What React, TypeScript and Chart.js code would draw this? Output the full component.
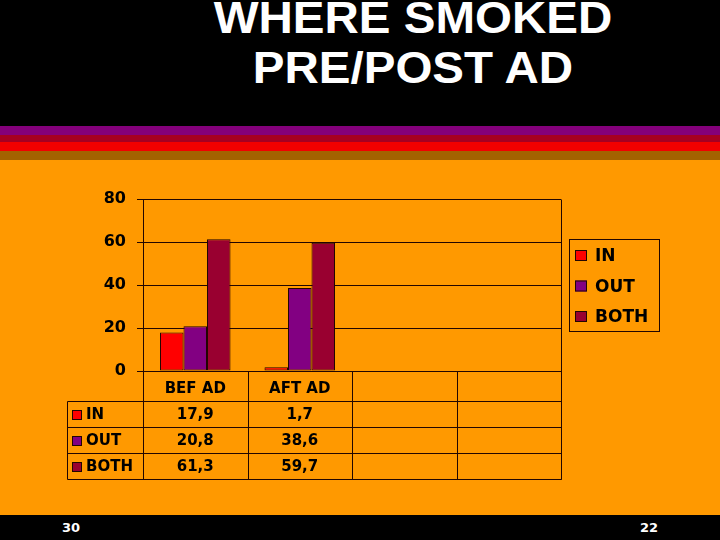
import { useEffect, useRef } from "react"
import { Chart, registerables } from "chart.js"
import type { Plugin } from "chart.js"

Chart.register(...registerables)

const categories = ["BEF AD", "AFT AD", "", ""]
const seriesNames = ["IN", "OUT", "BOTH"]
const inValues = [17.9, 1.7]
const outValues = [20.8, 38.6]
const bothValues = [61.3, 59.7]
const yTicks = [0, 20, 40, 60, 80]
const seriesColors = ["#ff0000", "#820082", "#990030"]

const ORANGE = "#ff9900"
const LINE = "#220600"
const FONT = "'DejaVu Sans', Verdana, sans-serif"

const fmt = (v: number) => v.toFixed(1).replace(".", ",")

// data table under the axis, columns follow the x scale
const tablePlugin: Plugin<"bar"> = {
  id: "dataTable",
  afterDraw(chart) {
    const { ctx, chartArea } = chart
    const x = chart.scales.x
    const step = x.getPixelForValue(1) - x.getPixelForValue(0)
    const top = chartArea.bottom
    const headBottom = top + 30
    const rowH = 26
    const bottom = headBottom + rowH * seriesNames.length
    const left = 67

    ctx.save()
    ctx.strokeStyle = LINE
    ctx.lineWidth = 1
    const line = (x0: number, y0: number, x1: number, y1: number) => {
      ctx.beginPath()
      ctx.moveTo(Math.round(x0) + 0.5, Math.round(y0) + 0.5)
      ctx.lineTo(Math.round(x1) + 0.5, Math.round(y1) + 0.5)
      ctx.stroke()
    }

    // plot right border
    line(chartArea.right, chartArea.top, chartArea.right, bottom)
    // y axis continues down
    line(chartArea.left, top, chartArea.left, bottom)
    line(left, headBottom, left, bottom)
    categories.forEach((_, i) => {
      const edge = x.getPixelForValue(i) + step / 2
      line(edge, top, edge, bottom)
    })
    for (let r = 0; r <= seriesNames.length; r++) {
      const y = headBottom + r * rowH
      line(left, y, chartArea.right, y)
    }

    const values = [inValues, outValues, bothValues]
    ctx.font = `bold 15px ${FONT}`
    ctx.textBaseline = "middle"
    seriesNames.forEach((name, r) => {
      const cy = headBottom + r * rowH + rowH / 2 + 1
      ctx.fillStyle = seriesColors[r]
      ctx.fillRect(72, cy - 5, 9, 9)
      ctx.strokeRect(72.5, cy - 4.5, 9, 9)
      ctx.fillStyle = "#000"
      ctx.textAlign = "left"
      ctx.fillText(name, 86, cy)
      ctx.textAlign = "center"
      values[r].forEach((v, i) => {
        ctx.fillText(fmt(v), x.getPixelForValue(i), cy)
      })
    })
    ctx.restore()
  },
}

// boxed legend on the right
const legendPlugin: Plugin<"bar"> = {
  id: "boxLegend",
  afterDraw(chart) {
    const { ctx } = chart
    const bx = 569
    const by = 79
    ctx.save()
    ctx.strokeStyle = LINE
    ctx.lineWidth = 1
    ctx.strokeRect(bx + 0.5, by + 0.5, 90, 92)
    ctx.font = `bold 17px ${FONT}`
    ctx.textBaseline = "middle"
    ctx.textAlign = "left"
    chart.data.datasets.forEach((ds, i) => {
      const cy = by + 17 + i * 30.5
      ctx.fillStyle = ds.backgroundColor as string
      ctx.fillRect(575, cy - 6, 12, 11)
      ctx.strokeRect(575.5, cy - 5.5, 11, 10)
      ctx.fillStyle = "#000"
      ctx.fillText(ds.label as string, 595, cy + 1)
    })
    ctx.restore()
  },
}

function BarChart() {
  const chartRef = useRef<HTMLCanvasElement>(null)
  const chartInstance = useRef<Chart | null>(null)

  useEffect(() => {
    if (!chartRef.current) return
    if (chartInstance.current) chartInstance.current.destroy()

    const series = [inValues, outValues, bothValues]
    chartInstance.current = new Chart(chartRef.current, {
      type: "bar",
      data: {
        labels: categories,
        datasets: seriesNames.map((name, i) => ({
          label: name,
          data: series[i],
          backgroundColor: seriesColors[i],
          borderColor: LINE,
          borderWidth: 1,
          borderSkipped: false,
          categoryPercentage: 0.675,
          barPercentage: 1,
        })),
      },
      options: {
        responsive: true,
        maintainAspectRatio: false,
        animation: false,
        layout: { padding: { top: 39, right: 159, bottom: 0, left: 0 } },
        scales: {
          x: {
            grid: { display: false, drawTicks: false },
            border: { display: false },
            ticks: {
              color: "#000",
              font: { family: FONT, size: 15, weight: "bold" },
              padding: 9,
              maxRotation: 0,
              autoSkip: false,
            },
            afterFit: (scale) => {
              scale.height = 144
            },
          },
          y: {
            min: 0,
            max: 80,
            afterBuildTicks: (scale) => {
              scale.ticks = yTicks.map((value) => ({ value }))
            },
            grid: { color: LINE, lineWidth: 1, tickLength: 6 },
            border: { display: true, color: LINE, width: 1 },
            ticks: {
              color: "#000",
              font: { family: FONT, size: 16, weight: "bold" },
              padding: 11,
            },
            afterFit: (scale) => {
              scale.width = 143
            },
          },
        },
        plugins: {
          legend: { display: false },
          title: { display: false },
          tooltip: { enabled: false },
        },
      },
      plugins: [tablePlugin, legendPlugin],
    })

    return () => {
      if (chartInstance.current) {
        chartInstance.current.destroy()
        chartInstance.current = null
      }
    }
  }, [])

  return <canvas ref={chartRef}></canvas>
}

const stripes = [
  { top: 126, height: 9, color: "#84007a" },
  { top: 135, height: 7, color: "#a60022" },
  { top: 142, height: 9, color: "#f20000" },
  { top: 151, height: 9, color: "#a36200" },
]

export default function App() {
  return (
    <div
      style={{
        position: "fixed",
        left: 0,
        top: 0,
        width: 720,
        height: 540,
        background: "#000",
        overflow: "hidden",
      }}
    >
      <div
        style={{
          position: "absolute",
          left: 413,
          top: -7,
          transform: "translateX(-50%) scaleX(1.08)",
          whiteSpace: "nowrap",
          textAlign: "center",
          color: "#fff",
          fontFamily: "'Liberation Sans', Arial, sans-serif",
          fontWeight: "bold",
          fontSize: 44,
          lineHeight: "50px",
        }}
      >
        WHERE SMOKED
        <br />
        PRE/POST AD
      </div>
      {stripes.map((s, i) => (
        <div
          key={i}
          style={{ position: "absolute", left: 0, width: 720, top: s.top, height: s.height, background: s.color }}
        />
      ))}
      <div style={{ position: "absolute", left: 0, top: 160, width: 720, height: 355, background: ORANGE }}>
        <BarChart />
      </div>
      <div
        style={{
          position: "absolute",
          top: 520,
          left: 0,
          width: 720,
          color: "#fff",
          fontFamily: FONT,
          fontWeight: "bold",
          fontSize: 13,
          lineHeight: "16px",
        }}
      >
        <span style={{ position: "absolute", left: 62 }}>30</span>
        <span style={{ position: "absolute", left: 640 }}>22</span>
      </div>
    </div>
  )
}
